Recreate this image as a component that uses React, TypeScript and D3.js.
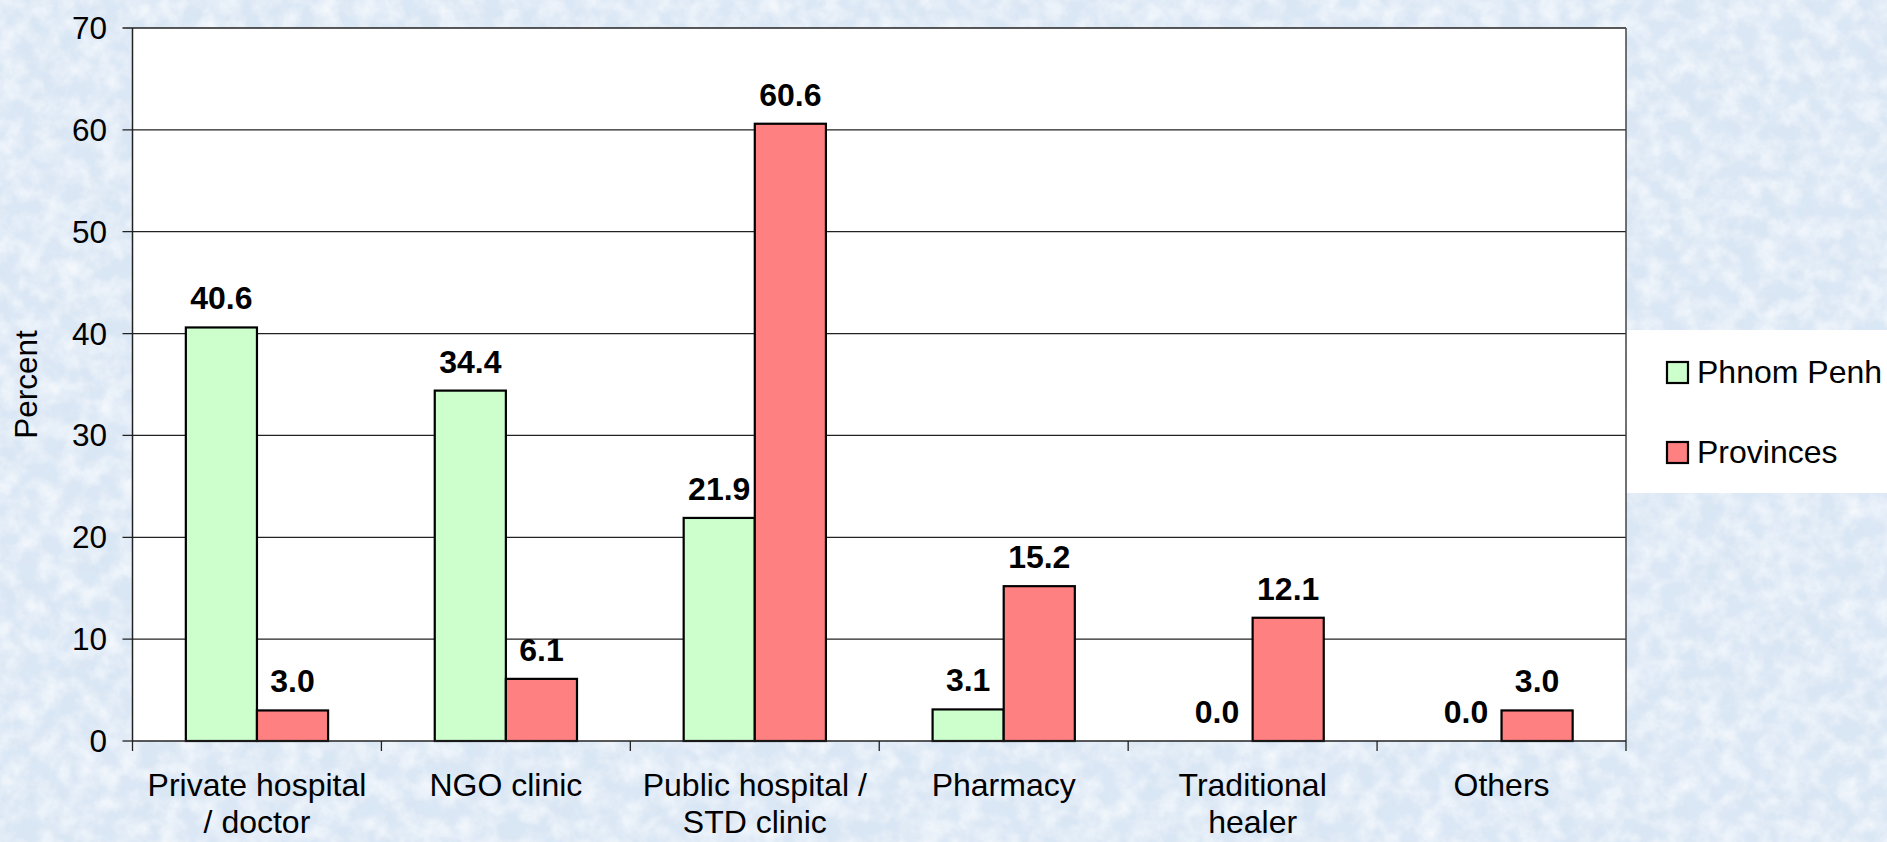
import React from "react";
import * as d3 from "d3";

const categories: string[][] = [
  ["Private hospital", "/ doctor"],
  ["NGO clinic"],
  ["Public hospital /", "STD clinic"],
  ["Pharmacy"],
  ["Traditional", "healer"],
  ["Others"],
];
const seriesNames = ["Phnom Penh", "Provinces"];
const phnomPenh = [40.6, 34.4, 21.9, 3.1, 0.0, 0.0];
const provinces = [3.0, 6.1, 60.6, 15.2, 12.1, 3.0];
const yTicks = [0, 10, 20, 30, 40, 50, 60, 70];
const seriesColors = ["#ccffcc", "#ff8080"];

const W = 1887;
const H = 842;
const plot = { left: 132.5, right: 1626, top: 28, bottom: 741 };
const FONT = "Arial, 'Liberation Sans', sans-serif";

export default function App() {
  const values = [phnomPenh, provinces];
  const catIdx = categories.map((_, i) => i);
  const x = d3.scaleBand<number>().domain(catIdx).range([plot.left, plot.right]).padding(0);
  const xs = d3
    .scaleBand<number>()
    .domain([0, 1])
    .range([0, x.bandwidth()])
    .paddingInner(0)
    .paddingOuter(0.75);
  const y = d3.scaleLinear().domain([0, 70]).range([plot.bottom, plot.top]);

  const boundaries = d3.range(categories.length + 1).map((i) => plot.left + i * x.step());

  return (
    <svg
      width={W}
      height={H}
      style={{ position: "fixed", left: 0, top: 0, display: "block" }}
      fontFamily={FONT}
    >
      <defs>
        <filter id="tex" x="0" y="0" width="100%" height="100%">
          <feTurbulence type="fractalNoise" baseFrequency="0.05" numOctaves="4" seed="7" result="n" />
          <feColorMatrix
            in="n"
            type="matrix"
            values="0 0 0 0 1  0 0 0 0 1  0 0 0 0 1  1.3 0 0 0 -0.45"
          />
        </filter>
        <filter id="tex2" x="0" y="0" width="100%" height="100%">
          <feTurbulence type="fractalNoise" baseFrequency="0.015" numOctaves="3" seed="3" result="n" />
          <feColorMatrix
            in="n"
            type="matrix"
            values="0 0 0 0 0.74  0 0 0 0 0.82  0 0 0 0 0.93  0 1.0 0 0 -0.35"
          />
        </filter>
      </defs>
      <rect x={0} y={0} width={W} height={H} fill="#d9e6f4" />
      <rect x={0} y={0} width={W} height={H} filter="url(#tex2)" />
      <rect x={0} y={0} width={W} height={H} filter="url(#tex)" />

      {/* plot area */}
      <rect
        x={plot.left}
        y={plot.top}
        width={plot.right - plot.left}
        height={plot.bottom - plot.top}
        fill="#ffffff"
      />
      {yTicks.map((t) => (
        <g key={t}>
          <line
            x1={plot.left - 10}
            x2={t === 0 ? plot.left : plot.right}
            y1={y(t)}
            y2={y(t)}
            stroke="#222"
            strokeWidth={1.3}
          />
          <text
            x={107}
            y={y(t)}
            dy="0.35em"
            textAnchor="end"
            fontSize={31.5}
            fill="#000"
          >
            {t}
          </text>
        </g>
      ))}
      <line x1={plot.right} x2={plot.right} y1={plot.top} y2={plot.bottom} stroke="#444" strokeWidth={1.5} />

      {/* bars */}
      {values.map((vals, s) =>
        vals.map((v, i) => {
          const bx = (x(i) as number) + (xs(s) as number);
          const by = y(v);
          return v > 0 ? (
            <rect
              key={`b${s}-${i}`}
              x={bx}
              y={by}
              width={xs.bandwidth()}
              height={y(0) - by}
              fill={seriesColors[s]}
              stroke="#000"
              strokeWidth={2.2}
            />
          ) : null;
        })
      )}

      {/* axes */}
      <line x1={plot.left} x2={plot.left} y1={plot.top} y2={plot.bottom} stroke="#222" strokeWidth={1.5} />
      <line x1={plot.left} x2={plot.right} y1={plot.bottom} y2={plot.bottom} stroke="#222" strokeWidth={1.5} />
      {boundaries.map((bx, i) => (
        <line key={`xt${i}`} x1={bx} x2={bx} y1={plot.bottom} y2={plot.bottom + 10} stroke="#222" strokeWidth={1.3} />
      ))}

      {/* value labels */}
      {values.map((vals, s) =>
        vals.map((v, i) => {
          const cx = (x(i) as number) + (xs(s) as number) + xs.bandwidth() / 2;
          return (
            <text
              key={`l${s}-${i}`}
              x={cx}
              y={y(v) - 18}
              textAnchor="middle"
              fontSize={32}
              fontWeight="bold"
              fill="#000"
            >
              {v.toFixed(1)}
            </text>
          );
        })
      )}

      {/* category labels */}
      {categories.map((lines, i) => {
        const cx = (x(i) as number) + x.bandwidth() / 2;
        return (
          <text key={`c${i}`} x={cx} y={796} textAnchor="middle" fontSize={32} fill="#000">
            {lines.map((ln, k) => (
              <tspan key={k} x={cx} dy={k === 0 ? 0 : 37}>
                {ln}
              </tspan>
            ))}
          </text>
        );
      })}

      {/* y axis title */}
      <text
        transform={`translate(37, ${(plot.top + plot.bottom) / 2}) rotate(-90)`}
        textAnchor="middle"
        fontSize={31.5}
        fill="#000"
      >
        Percent
      </text>

      {/* legend */}
      <rect x={1627} y={330} width={W - 1627} height={163} fill="#ffffff" />
      {seriesNames.map((name, s) => {
        const ly = 362 + s * 80;
        return (
          <g key={name}>
            <rect x={1667} y={ly} width={21} height={21} fill={seriesColors[s]} stroke="#000" strokeWidth={2.2} />
            <text x={1697} y={ly + 21} fontSize={32} fill="#000">
              {name}
            </text>
          </g>
        );
      })}
    </svg>
  );
}
